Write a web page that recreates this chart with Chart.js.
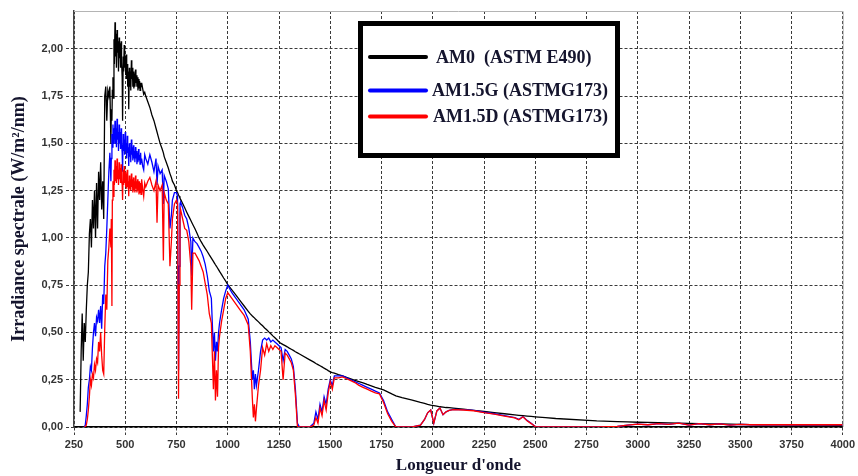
<!DOCTYPE html>
<html>
<head>
<meta charset="utf-8">
<script src="https://cdn.jsdelivr.net/npm/chart.js@4.4.0/dist/chart.umd.min.js"></script>
<style>
  body { margin: 0; background: #fff; }
  #wrap { width: 858px; height: 476px; }
</style>
</head>
<body>
<div id="wrap"><canvas id="graficoSpectre" width="858" height="476"></canvas></div>
<script>
// longueurs d'onde (nm)
var wavelength = [
  280,285,290,295,300,305,310,315,320,325,
  330,335,340,345,350,355,360,365,370,375,
  380,385,390,395,400,405,410,415,420,425,
  430,432,435,437, 440,442,445,447, 450,452,455,457, 460,462,465,467,
  470,472,475,477, 480,482,485,487, 490,492,495,497, 500,502,505,507,
  510,512,515,517, 520,522,525,527, 530,532,535,537, 540,542,545,547,
  550,552,555,557, 560,562,565,567, 570,572,575,577, 580,585,590,595,600,
  610,620,630,640,650,655,660,670,680,686,
  690,700,710,718,725,730,740,750,755,760,
  763,767,770,780,790,800,810,820,824,830,
  840,850,860,870,880,890,900,910,920,930,
  935,940,945,950,955,960,970,980,990,1000,
  1020,1040,1060,1080,1100,1110,1120,1125,1130,1135,
  1140,1150,1160,1170,1180,1190,1200,1210,1220,1230,
  1240,1250,1260,1270,1280,1290,1300,1310,1320,1330,
  1340,1350,1400,1420,1430,1440,1450,1460,1470,1480,
  1490,1500,1510,1520,1540,1560,1580,1600,1620,1640,
  1660,1680,1700,1720,1740,1760,1780,1800,1820,1850,
  1900,1940,1960,1975,1990,2005,2020,2035,2050,2065,
  2080,2100,2150,2200,2250,2300,2350,2400,2420,2440,
  2460,2480,2500,2550,2600,2800,2900,2950,3000,3050,
  3100,3150,3200,3250,3300,3350,3400,3450,3500,3550,
  3600,3700,3800,3900,4000
];

var am0 = [
  0.08,0.40,0.60,0.35,0.55,0.45,0.62,0.75,0.82,1.02,
  1.10,0.95,1.20,1.05,1.25,1.00,1.29,1.05,1.35,1.20,
  1.40,1.15,1.30,1.10,1.75,1.80,1.62,1.78,1.75,1.80,
  1.50,1.68,1.62,1.78, 1.85,1.74,2.05,1.92, 2.14,1.96,2.08,1.90, 2.10,1.98,2.04,1.88,
  2.06,1.95,2.03,1.90, 2.04,1.93,1.85,1.62, 1.96,1.88,2.02,1.90, 1.96,1.86,1.97,1.84,
  1.92,1.80,1.88,1.68, 1.90,1.80,1.88,1.78, 1.94,1.84,1.90,1.80, 1.88,1.79,1.87,1.80,
  1.89,1.82,1.86,1.80, 1.85,1.78,1.84,1.79, 1.83,1.78,1.82,1.80, 1.82,1.79,1.76,1.77,1.75,
  1.72,1.69,1.65,1.62,1.58,1.56,1.54,1.50,1.47,1.45,
  1.43,1.40,1.37,1.34,1.32,1.30,1.28,1.25,1.24,1.227,
  1.22,1.21,1.204,1.182,1.159,1.136,1.114,1.092,1.083,1.07,
  1.048,1.025,1.0,0.98,0.962,0.945,0.928,0.91,0.893,0.876,
  0.867,0.858,0.85,0.841,0.832,0.823,0.806,0.788,0.771,0.753,
  0.725,0.697,0.668,0.64,0.612,0.598,0.587,0.582,0.577,0.571,
  0.566,0.556,0.545,0.535,0.524,0.514,0.503,0.493,0.482,0.472,
  0.461,0.45,0.442,0.436,0.43,0.424,0.417,0.411,0.405,0.398,
  0.392,0.386,0.355,0.343,0.336,0.33,0.324,0.318,0.311,0.305,
  0.298,0.292,0.288,0.285,0.277,0.27,0.262,0.255,0.247,0.24,
  0.233,0.225,0.218,0.21,0.203,0.196,0.186,0.175,0.165,0.155,
  0.142,0.13,0.125,0.12,0.116,0.113,0.11,0.107,0.105,0.103,
  0.102,0.10,0.095,0.088,0.082,0.076,0.07,0.064,0.062,0.06,
  0.058,0.056,0.054,0.05,0.045,0.032,0.028,0.027,0.025,0.024,
  0.023,0.022,0.02,0.019,0.018,0.017,0.016,0.015,0.014,0.013,
  0.012,0.011,0.01,0.01,0.009
];

var am15g = [
  null,null,null,null,0,0.01,0.06,0.12,0.21,0.25,
  0.32,0.30,0.42,0.50,0.55,0.48,0.58,0.56,0.62,0.55,
  0.64,0.52,0.70,0.65,0.85,0.92,1.05,1.20,1.35,1.45,
  1.30,1.42,1.55,1.48, 1.60,1.50,1.58,1.52, 1.62,1.50,1.58,1.48, 1.63,1.52,1.56,1.46,
  1.60,1.50,1.56,1.47, 1.58,1.50,1.45,1.35, 1.55,1.46,1.52,1.44, 1.56,1.46,1.50,1.42,
  1.54,1.45,1.48,1.38, 1.50,1.43,1.46,1.40, 1.52,1.44,1.48,1.41, 1.49,1.42,1.46,1.40,
  1.48,1.42,1.46,1.39, 1.45,1.40,1.47,1.41, 1.44,1.39,1.45,1.40, 1.42,1.38,1.36,1.44,1.42,
  1.39,1.44,1.40,1.35,1.42,1.28,1.38,1.34,1.36,1.18,
  1.33,1.30,1.26,1.05,1.12,1.20,1.24,1.24,1.22,0.30,
  0.85,1.18,1.19,1.16,1.12,1.10,1.05,0.98,0.80,1.00,
  0.98,0.97,0.95,0.93,0.90,0.86,0.80,0.72,0.68,0.40,
  0.50,0.35,0.45,0.40,0.50,0.55,0.62,0.68,0.72,0.75,
  0.71,0.68,0.65,0.62,0.57,0.45,0.25,0.30,0.20,0.28,
  0.22,0.30,0.40,0.46,0.47,0.46,0.47,0.45,0.46,0.45,
  0.44,0.43,0.42,0.35,0.41,0.40,0.38,0.36,0.32,0.20,
  0.02,0,0,0.02,0.08,0.04,0.12,0.08,0.16,0.12,
  0.20,0.25,0.22,0.27,0.27,0.27,0.26,0.25,0.24,0.23,
  0.22,0.21,0.20,0.19,0.18,0.14,0.08,0.04,0,0,
  0,0.01,0.04,0.075,0.09,0.02,0.085,0.10,0.065,0.08,
  0.088,0.093,0.092,0.088,0.078,0.07,0.06,0.05,0.04,0.055,
  0.035,0.02,0.002,0,0,0,0.003,0.01,0.015,0.012,
  0.018,0.014,0.02,0.01,0.018,0.012,0.016,0.01,0.014,0.012,
  0.012,0.012,0.012,0.012,0.012
];

var am15d = [
  null,null,null,null,0,0,0.01,0.04,0.09,0.16,
  0.25,0.22,0.28,0.26,0.33,0.30,0.36,0.34,0.45,0.40,
  0.50,0.38,0.30,0.28,0.52,0.70,0.62,0.88,0.95,1.05,
  0.95,1.10,0.64,1.20, 1.30,1.22,1.36,1.28, 1.41,1.30,1.38,1.29, 1.42,1.31,1.36,1.28,
  1.40,1.31,1.37,1.29, 1.39,1.30,1.28,1.20, 1.36,1.28,1.38,1.29, 1.35,1.27,1.34,1.26,
  1.36,1.27,1.30,1.22, 1.33,1.26,1.31,1.25, 1.34,1.27,1.31,1.24, 1.32,1.25,1.30,1.24,
  1.33,1.26,1.30,1.24, 1.31,1.25,1.30,1.23, 1.30,1.24,1.29,1.23, 1.31,1.26,1.22,1.29,1.27,
  1.30,1.32,1.28,1.25,1.30,1.08,1.28,1.25,1.28,0.88,
  1.24,1.20,1.18,0.85,0.98,1.10,1.18,1.20,1.18,0.15,
  0.75,1.12,1.15,1.10,1.05,1.04,0.98,0.85,0.62,0.92,
  0.92,0.90,0.88,0.85,0.82,0.76,0.70,0.60,0.55,0.20,
  0.40,0.14,0.30,0.16,0.42,0.48,0.56,0.62,0.68,0.71,
  0.68,0.65,0.62,0.59,0.54,0.40,0.15,0.05,0.12,0.03,
  0.10,0.22,0.30,0.42,0.38,0.44,0.40,0.43,0.41,0.43,
  0.42,0.41,0.40,0.25,0.39,0.38,0.36,0.34,0.30,0.17,
  0,0,0,0.01,0.05,0.02,0.10,0.06,0.14,0.09,
  0.18,0.24,0.20,0.26,0.26,0.265,0.255,0.245,0.235,0.22,
  0.21,0.20,0.19,0.18,0.175,0.13,0.07,0.03,0,0,
  0,0.01,0.04,0.075,0.09,0.02,0.085,0.10,0.065,0.08,
  0.088,0.092,0.09,0.086,0.076,0.068,0.058,0.048,0.038,0.054,
  0.033,0.018,0.002,0,0,0,0.003,0.01,0.015,0.012,
  0.018,0.014,0.02,0.01,0.018,0.012,0.016,0.01,0.014,0.012,
  0.012,0.012,0.012,0.012,0.012
];

var legendLabels = ['AM0  (ASTM E490)', 'AM1.5G (ASTMG173)', 'AM1.5D (ASTMG173)'];
var seriesColors = ['#000000', '#0000ff', '#ff0000'];

function toPoints(ys) {
  var pts = [];
  for (var i = 0; i < wavelength.length; i++) {
    if (ys[i] !== null && ys[i] !== undefined) pts.push({ x: wavelength[i], y: ys[i] });
  }
  return pts;
}

// cadre haut/droite gris + legende encadree
var cadreLegende = {
  id: 'cadreLegende',
  afterDatasetsDraw: function(chart) {
    var ctx = chart.ctx;
    var a = chart.chartArea;
    ctx.save();
    ctx.strokeStyle = '#b4b4b4';
    ctx.lineWidth = 1;
    ctx.beginPath();
    ctx.moveTo(a.left, a.top + 0.5);
    ctx.lineTo(a.right + 0.5, a.top + 0.5);
    ctx.lineTo(a.right + 0.5, a.bottom);
    ctx.stroke();

    // boite de legende
    ctx.fillStyle = '#ffffff';
    ctx.fillRect(358, 21, 262, 137);
    ctx.strokeStyle = '#000000';
    ctx.lineWidth = 5;
    ctx.strokeRect(360.5, 23.5, 257, 132);

    var ys = [57, 90.5, 116.5];
    var xs = [436, 432, 433];
    ctx.lineCap = 'round';
    ctx.font = 'bold 18px "Liberation Serif", "Times New Roman", serif';
    ctx.textBaseline = 'middle';
    for (var i = 0; i < 3; i++) {
      ctx.strokeStyle = seriesColors[i];
      ctx.lineWidth = 4;
      ctx.beginPath();
      ctx.moveTo(370, ys[i]);
      ctx.lineTo(426, ys[i]);
      ctx.stroke();
      ctx.fillStyle = '#15152e';
      ctx.fillText(legendLabels[i], xs[i], ys[i] + 1);
    }
    ctx.restore();
  }
};

var ctx = document.getElementById('graficoSpectre').getContext('2d');
var grafico = new Chart(ctx, {
  type: 'line',
  data: {
    datasets: [
      { label: legendLabels[0], data: toPoints(am0), borderColor: seriesColors[0], borderWidth: 1.3, pointRadius: 0, order: 3 },
      { label: legendLabels[1], data: toPoints(am15g), borderColor: seriesColors[1], borderWidth: 1.3, pointRadius: 0, order: 2 },
      { label: legendLabels[2], data: toPoints(am15d), borderColor: seriesColors[2], borderWidth: 1.3, pointRadius: 0, order: 1 }
    ]
  },
  options: {
    responsive: false,
    animation: false,
    layout: { padding: { left: 0, top: 11, right: 15, bottom: 0 } },
    plugins: { legend: { display: false }, tooltip: { enabled: false } },
    scales: {
      x: {
        type: 'linear',
        min: 250,
        max: 4000,
        afterFit: function(scale) { scale.height = 49; },
        ticks: {
          stepSize: 250,
          padding: 3,
          color: '#333',
          font: { family: '"Liberation Sans", Arial, sans-serif', size: 11, weight: 'bold' },
          maxRotation: 0,
          autoSkip: false,
          callback: function(v) { return v; }
        },
        grid: { color: '#3a3a3a', lineWidth: 1, tickLength: 8, tickBorderDash: [3, 2] },
        border: { display: true, color: '#000', width: 1.5, dash: [3, 2] },
        title: {
          display: true,
          text: "Longueur d'onde",
          color: '#15152e',
          font: { family: '"Liberation Serif", "Times New Roman", serif', size: 17, weight: 'bold', lineHeight: 1 },
          padding: { top: 0, bottom: 2 }
        }
      },
      y: {
        min: 0,
        max: 2.2,
        afterFit: function(scale) { scale.width = 74; },
        ticks: {
          stepSize: 0.25,
          includeBounds: false,
          padding: 3,
          color: '#333',
          font: { family: '"Liberation Sans", Arial, sans-serif', size: 11, weight: 'bold' },
          callback: function(v) { return v.toFixed(2).replace('.', ','); }
        },
        grid: { color: '#3a3a3a', lineWidth: 1, tickLength: 8, tickBorderDash: [3, 2] },
        border: { display: true, color: '#444', width: 1.5, dash: [3, 2] },
        title: {
          display: true,
          text: 'Irradiance spectrale (W/m²/nm)',
          color: '#15152e',
          font: { family: '"Liberation Serif", "Times New Roman", serif', size: 18, weight: 'bold', lineHeight: 1.2 },
          padding: { top: 9, bottom: 0 }
        }
      }
    }
  },
  plugins: [cadreLegende]
});
</script>
</body>
</html>
